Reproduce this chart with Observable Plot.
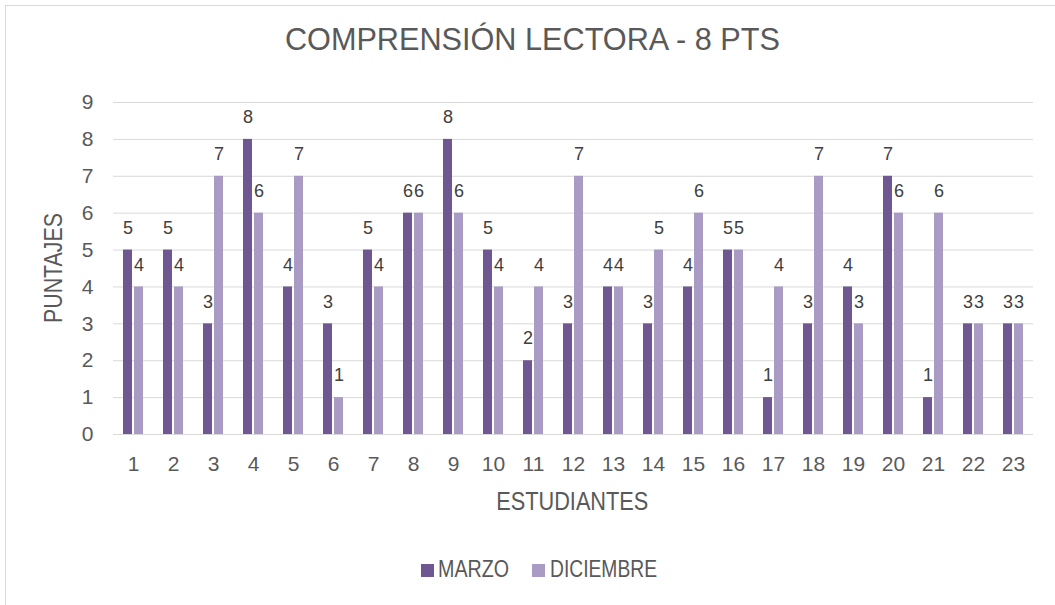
<!DOCTYPE html>
<html>
<head>
<meta charset="utf-8">
<script src="https://cdn.jsdelivr.net/npm/d3@7"></script>
<script src="https://cdn.jsdelivr.net/npm/@observablehq/plot@0.6"></script>
<style>
  html, body { margin: 0; padding: 0; background: #fff; overflow: hidden; }
  #wrap { position: relative; width: 1055px; height: 605px; font-family: "Liberation Sans", Arial, sans-serif; color: #595959; }
  #frame { position: absolute; left: 5px; top: 5px; width: 1200px; height: 800px; border-left: 1px solid #d9d9d9; border-top: 1px solid #d9d9d9; }
  #chart { position: absolute; left: 0; top: 0; }
  .txt { position: absolute; white-space: nowrap; transform-origin: 0 50%; }
</style>
</head>
<body>
<div id="wrap">
  <div id="frame"></div>
  <div id="chart"></div>
</div>
<script>
const students = ["1","2","3","4","5","6","7","8","9","10","11","12","13","14","15","16","17","18","19","20","21","22","23"];
const seriesNames = ["MARZO", "DICIEMBRE"];
const marzo =     [5,5,3,8,4,3,5,6,8,5,2,3,4,3,4,5,1,3,4,7,1,3,3];
const diciembre = [4,4,7,6,7,1,4,6,6,4,4,7,4,5,6,5,4,7,3,6,6,3,3];
const seriesColors = ["#6f5891", "#a99bc3"];
const yTicks = [0,1,2,3,4,5,6,7,8,9];
const titleText = "COMPRENSIÓN LECTORA - 8 PTS";
const xTitle = "ESTUDIANTES";
const yTitle = "PUNTAJES";

const data = [];
students.forEach((s, i) => {
  data.push({student: s, series: seriesNames[0], value: marzo[i]});
  data.push({student: s, series: seriesNames[1], value: diciembre[i]});
});

const font = '"Liberation Sans", Arial, sans-serif';

const chart = Plot.plot({
  width: 1055,
  height: 605,
  marginTop: 102,
  marginBottom: 171,
  marginLeft: 108,
  marginRight: 18,
  style: {fontFamily: font, fontSize: "21px", color: "#595959", background: "transparent"},
  fx: {domain: students, paddingInner: 0, paddingOuter: 0, label: null, axis: null},
  x: {domain: seriesNames, paddingInner: 0.2, paddingOuter: 0.83, axis: null},
  y: {domain: [0, 9], axis: null},
  color: {domain: seriesNames, range: seriesColors},
  marks: [
    Plot.gridY(yTicks, {stroke: "#d9d9d9", strokeOpacity: 1, strokeWidth: 1}),
    Plot.axisY(yTicks, {tickSize: 0, tickPadding: 20, label: null, fill: "#595959", fontSize: 21}),
    Plot.axisFx({anchor: "bottom", tickSize: 0, tickPadding: 22, label: null, fill: "#595959", fontSize: 21}),
    Plot.barY(data, {fx: "student", x: "series", y: "value", fill: "series", inset: 0}),
    Plot.text(data, {fx: "student", x: "series", y: "value", text: d => String(d.value), dy: -22, fontSize: 18, fill: "#404040"})
  ]
});
document.getElementById("chart").appendChild(chart);

const wrap = document.getElementById("wrap");
function addText(text, opts) {
  const el = document.createElement("div");
  el.className = "txt";
  el.textContent = text;
  el.style.fontSize = opts.size + "px";
  el.style.lineHeight = opts.lh + "px";
  wrap.appendChild(el);
  const w = el.getBoundingClientRect().width;
  const s = opts.width / w;
  if (opts.rotate) {
    el.style.left = (opts.cx - w / 2) + "px";
    el.style.top = (opts.cy - opts.lh / 2) + "px";
    el.style.transformOrigin = "50% 50%";
    el.style.transform = "rotate(-90deg) scaleX(" + s + ")";
  } else if (opts.cx !== undefined) {
    el.style.left = (opts.cx - w / 2) + "px";
    el.style.top = opts.top + "px";
    el.style.transformOrigin = "50% 50%";
    el.style.transform = "scaleX(" + s + ")";
  } else {
    el.style.left = opts.left + "px";
    el.style.top = opts.top + "px";
    el.style.transform = "scaleX(" + s + ")";
  }
  return el;
}
addText(titleText, {cx: 532.5, top: 20, size: 32, lh: 38, width: 495});
addText(xTitle, {cx: 572.5, top: 486, size: 25.5, lh: 30, width: 152});
addText(yTitle, {cx: 53, cy: 268, size: 25.5, lh: 30, width: 110, rotate: true});

const legendLeft = [421, 532];
const legendTextLeft = [438, 550];
const legendWidths = [71, 107];
seriesNames.forEach((name, i) => {
  const sw = document.createElement("div");
  sw.style.cssText = "position:absolute;width:13px;height:13px;top:564px;left:" + legendLeft[i] + "px;background:" + seriesColors[i];
  wrap.appendChild(sw);
  addText(name, {left: legendTextLeft[i], top: 554, size: 23.5, lh: 30, width: legendWidths[i]});
});
</script>
</body>
</html>
